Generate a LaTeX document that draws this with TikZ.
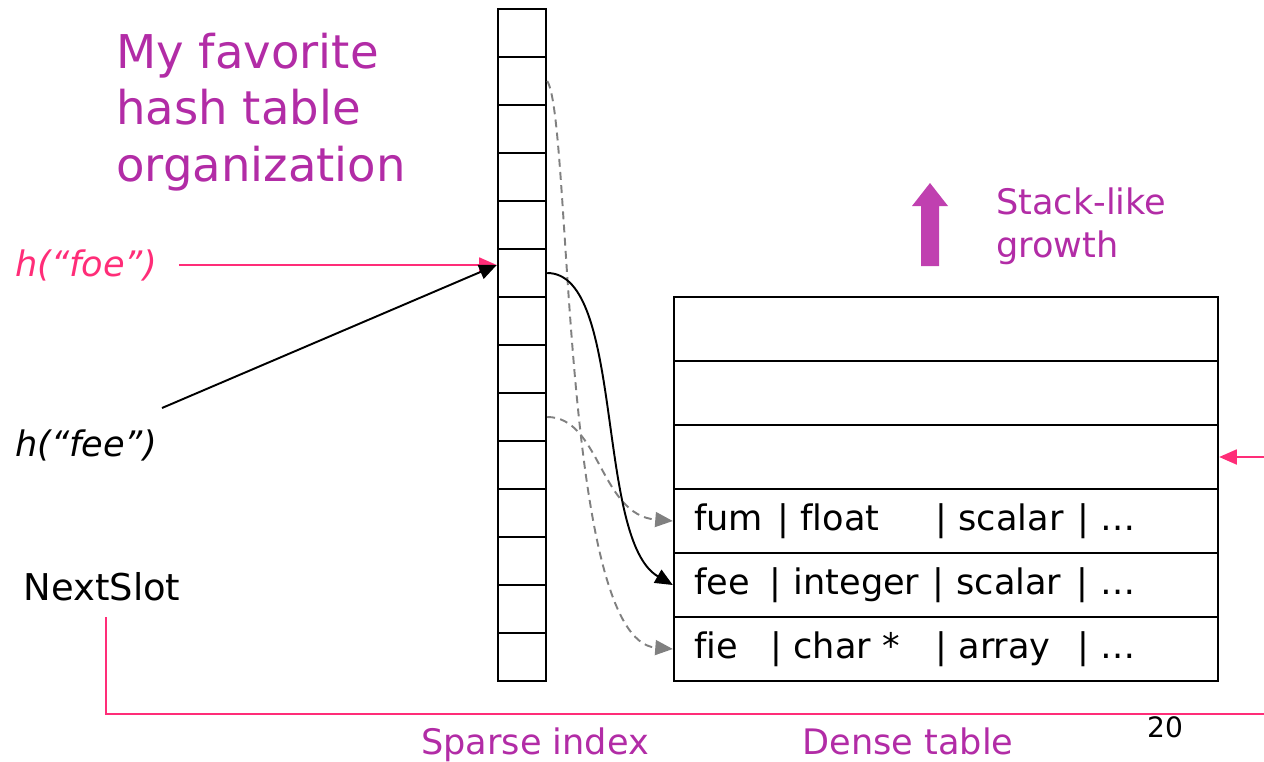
\documentclass[tikz,border=0pt]{standalone}
\usepackage{fontspec}
\setmainfont{DejaVu Sans}[Ligatures=NoCommon]
\usetikzlibrary{arrows.meta}

\definecolor{plum}{RGB}{178,44,166}
\definecolor{plumlight}{RGB}{192,64,176}
\definecolor{hotpink}{RGB}{255,45,120}
\definecolor{ptrgray}{RGB}{128,128,128}

\tikzset{
  slot/.style={draw, line width=1.4pt, minimum width=0.96cm, minimum height=0.96cm, inner sep=0pt},
  entry/.style={draw, line width=1.4pt, minimum width=10.88cm, minimum height=1.28cm,
    inner xsep=0.4cm, inner ysep=0pt, text width=10.08cm, align=left, font=\fontsize{20}{24}\selectfont},
  ptr/.style={-{Triangle[length=10pt,width=8.5pt]}, line width=1.1pt},
  ghost/.style={ptr, ptrgray, dash pattern=on 4.5pt off 3pt},
  caption/.style={plum, anchor=base, font=\fontsize{20}{24}\selectfont},
  plain/.style={font=\fontsize{20}{24}\selectfont},
}
\newcommand\fld[2]{\makebox[#1][l]{#2}}

\begin{document}
\begin{tikzpicture}[x=0.02cm, y=-0.02cm]
  \useasboundingbox (0,0) rectangle (1264,761);

  % sparse index
  \foreach \i in {1,...,14}
    \node[slot] (s\i) at (522, {48*\i-15}) {};

  % dense table
  \foreach \r in {1,2,3}
    \node[entry] (d\r) at (946, {64*\r+265}) {};
  \node[entry] (d4) at (946, 521) {\fld{1.66cm}{fum}\fld{3.16cm}{| float}\fld{2.84cm}{| scalar}| …};
  \node[entry] (d5) at (946, 585) {\fld{1.52cm}{fee}\fld{3.26cm}{| integer}\fld{2.88cm}{| scalar}| …};
  \node[entry] (d6) at (946, 649) {\fld{1.52cm}{fie}\fld{3.30cm}{| char *}\fld{2.84cm}{| array}| …};

  \node[plum, anchor=north west, align=left, font=\fontsize{26.5}{32}\selectfont] (title) at (110, 27)
    {My favorite\\hash table\\organization};

  \fill[plumlight] (921,266) -- (921,206) -- (912,206) -- (930,183) -- (948,206) -- (939,206) -- (939,266) -- cycle;
  \node[plum, anchor=north west, align=left, font=\fontsize{20}{24}\selectfont] (growth) at (990, 182) {Stack-like\\growth};

  \node[plain, hotpink, font=\fontsize{20}{24}\selectfont\itshape] (foe) at (86, 265) {h(“foe”)};
  \node[plain, font=\fontsize{20}{24}\selectfont\itshape] (fee) at (86, 445) {h(“fee”)};
  \node[plain, font=\fontsize{21}{24}\selectfont] (nextslot) at (102, 587) {NextSlot};

  \node[caption] (sparse) at (535, 754) {Sparse index};
  \node[caption] (dense) at (908, 754) {Dense table};
  \node[font=\fontsize{16}{20}\selectfont] (page) at (1165, 727) {20};

  \coordinate (feetail) at (162, 408);
  \coordinate (nsfoot) at (106, 617);
  \coordinate (loopturn) at (1290, 714);

  \draw[ptr, hotpink, shorten <=9pt] (foe.east) -- (s6.west |- foe.east);
  \draw[ptr] (feetail) -- (s6.west |- foe.east);
  \draw[ghost] (s2.east) .. controls (572,120) and (560,640) .. (d6.west);
  \draw[ghost] (s9.east) .. controls (600,417) and (600,515) .. (d4.west);
  \draw[ptr] (s6.east) .. controls (625,273) and (595,540) .. (d5.west);
  \draw[ptr, hotpink] (nsfoot) |- (loopturn) |- (d3.east);
\end{tikzpicture}
\end{document}
